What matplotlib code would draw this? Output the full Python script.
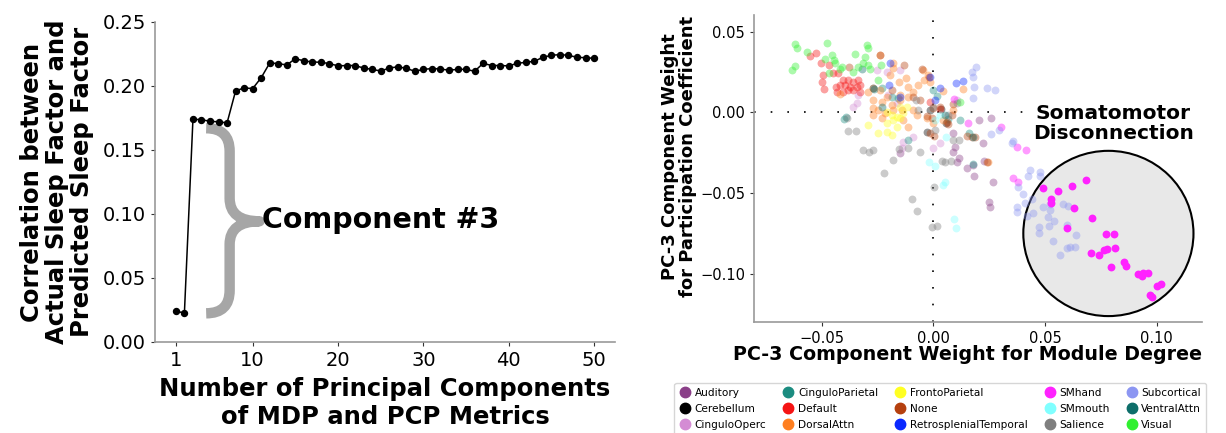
import numpy as np
import matplotlib
matplotlib.use("Agg")
import matplotlib.pyplot as plt
from matplotlib.path import Path
from matplotlib.patches import PathPatch, Ellipse
from matplotlib.lines import Line2D

# ============================= DATA =============================
# left panel: correlation vs number of PCs
n_components = list(range(1, 51))
corr_values = [0.0240, 0.0227, 0.1740, 0.1737, 0.1724, 0.1720, 0.1712, 0.1962, 0.1985, 0.1980,
               0.2065, 0.2180, 0.2175, 0.2164, 0.2214, 0.2196, 0.2188, 0.2185, 0.2175, 0.2157,
               0.2160, 0.2160, 0.2140, 0.2130, 0.2117, 0.2140, 0.2150, 0.2138, 0.2115, 0.2130,
               0.2136, 0.2133, 0.2123, 0.2130, 0.2130, 0.2115, 0.2177, 0.2160, 0.2160, 0.2157,
               0.2177, 0.2185, 0.2193, 0.2224, 0.2240, 0.2245, 0.2240, 0.2224, 0.2221, 0.2216]
left_xticks = [1, 10, 20, 30, 40, 50]

# right panel: PC-3 weights per network (module degree x, participation coeff y)
auditory_x = [0.0097, 0.0090, 0.0115, 0.0149, 0.0182, 0.0179, 0.0228, 0.0266, 0.0248, 0.0254,
              0.0090, 0.0257, 0.0221, 0.0206, -0.0149, 0.0104]
auditory_y = [-0.0213, -0.0244, -0.0285, -0.0347, -0.0395, -0.0327, -0.0300, -0.0430, -0.0554, -0.0585,
              -0.0130, -0.0037, -0.0192, -0.0048, -0.0254, -0.0306]
cerebellum_x = [0.0033, 0.0057, -0.0015, -0.0030]
cerebellum_y = [0.0023, -0.0064, 0.0014, -0.0120]
cingulooperc_x = [-0.0358, -0.0340, -0.0336, -0.0254, -0.0209, -0.0149, -0.0142, -0.0134, -0.0090, 0.0107,
                  -0.0201, -0.0164, 0.0000, 0.0030]
cingulooperc_y = [0.0035, 0.0056, 0.0108, 0.0263, 0.0252, 0.0263, -0.0223, -0.0182, -0.0155, 0.0077,
                  0.0108, 0.0056, -0.0223, -0.0192]
cinguloparietal_x = [-0.0400, -0.0391, -0.0269, -0.0231, -0.0157, -0.0112, 0.0000, 0.0015, 0.0067, 0.0119,
                     0.0179, 0.0161, -0.0187]
cinguloparietal_y = [-0.0043, -0.0027, 0.0149, 0.0149, 0.0087, -0.0172, 0.0139, 0.0101, -0.0043, -0.0048,
                     -0.0323, -0.0130, 0.0093]
default_x = [-0.0552, -0.0525, -0.0504, -0.0466, -0.0451, -0.0425, -0.0493, -0.0497, -0.0488, -0.0406,
             -0.0381, -0.0358, -0.0336, -0.0328, -0.0343, -0.0373, -0.0396, -0.0418, -0.0436, -0.0430,
             -0.0403, -0.0381, -0.0358, -0.0328, -0.0015, 0.0030]
default_y = [0.0349, 0.0366, 0.0304, 0.0294, 0.0242, 0.0246, 0.0232, 0.0190, 0.0143, 0.0201,
             0.0201, 0.0190, 0.0201, 0.0170, 0.0159, 0.0159, 0.0170, 0.0170, 0.0159, 0.0128,
             0.0128, 0.0139, 0.0139, 0.0128, 0.0062, 0.0019]
dorsalattn_x = [-0.0239, -0.0182, -0.0179, -0.0194, -0.0152, -0.0122, -0.0112, -0.0045, -0.0042, -0.0015,
                -0.0022, -0.0067, -0.0090, -0.0112, -0.0149, -0.0209, -0.0231, -0.0269, -0.0272, -0.0246,
                -0.0216, -0.0179, -0.0142, -0.0134, -0.0112, -0.0075, -0.0030, 0.0000, 0.0045, 0.0090,
                0.0131, 0.0045, -0.0239, -0.0291, -0.0418, -0.0149, -0.0187, -0.0231, -0.0269, 0.0243,
                -0.0090]
dorsalattn_y = [0.0356, 0.0308, 0.0273, 0.0232, 0.0190, 0.0211, 0.0159, 0.0263, 0.0201, 0.0190,
                0.0232, 0.0170, 0.0128, 0.0097, 0.0108, 0.0097, 0.0066, 0.0025, 0.0077, 0.0014,
                -0.0006, 0.0014, 0.0014, -0.0048, -0.0089, -0.0017, -0.0037, -0.0068, -0.0048, 0.0014,
                0.0143, 0.0134, 0.0139, 0.0128, 0.0114, 0.0077, 0.0045, -0.0037, -0.0017, -0.0306,
                0.0014]
frontoparietal_x = [-0.0209, -0.0187, -0.0164, -0.0149, -0.0179, -0.0209, -0.0246, -0.0209, -0.0187, -0.0164,
                    -0.0134, -0.0119, -0.0149, -0.0291]
frontoparietal_y = [0.0004, -0.0017, -0.0027, -0.0037, -0.0048, -0.0068, -0.0130, -0.0120, -0.0141, -0.0089,
                    -0.0006, 0.0035, 0.0035, -0.0079]
none_x = [-0.0239, -0.0376, -0.0131, -0.0052, -0.0018, -0.0090, 0.0000, -0.0030, 0.0030, 0.0060,
          0.0067, -0.0015, 0.0003, 0.0149, 0.0172, 0.0187, 0.0239, 0.0082, 0.0090, -0.0187,
          -0.0269, -0.0060, -0.0007]
none_y = [0.0356, 0.0283, 0.0294, 0.0269, 0.0217, 0.0097, 0.0025, -0.0023, 0.0031, -0.0058,
          -0.0072, -0.0130, -0.0147, -0.0147, -0.0155, -0.0155, -0.0306, -0.0017, 0.0052, 0.0139,
          0.0149, 0.0077, -0.0037]
retrosplenial_x = [-0.0194, -0.0199, -0.0015, 0.0030, 0.0101, 0.0134, -0.0149, 0.0007]
retrosplenial_y = [0.0304, 0.0170, 0.0217, 0.0149, 0.0184, 0.0196, 0.0097, 0.0077]
smhand_x = [0.0493, 0.0525, 0.0525, 0.0560, 0.0622, 0.0682, 0.0631, 0.0597, 0.0712, 0.0772,
            0.0807, 0.0706, 0.0742, 0.0766, 0.0776, 0.0815, 0.0796, 0.0855, 0.0861, 0.0915,
            0.0936, 0.0940, 0.0960, 0.1000, 0.1019, 0.0970, 0.0981,
            0.0157, 0.0303, 0.0373, 0.0416, 0.0358, 0.0378, 0.0094]
smhand_y = [-0.0467, -0.0538, -0.0565, -0.0490, -0.0455, -0.0422, -0.0596, -0.0718, -0.0653, -0.0755,
            -0.0755, -0.0875, -0.0885, -0.0854, -0.0850, -0.0840, -0.0959, -0.0926, -0.0951, -0.1003,
            -0.1015, -0.0999, -0.0995, -0.1077, -0.1065, -0.1133, -0.1148,
            -0.0064, -0.0093, -0.0213, -0.0232, -0.0405, -0.0430, 0.0081]
smmouth_x = [-0.0018, 0.0007, 0.0045, 0.0052, 0.0094, 0.0100, 0.0007, 0.0030, 0.0057]
smmouth_y = [-0.0306, -0.0333, -0.0451, -0.0430, -0.0664, -0.0720, -0.0048, -0.0017, -0.0155]
salience_x = [-0.0388, -0.0384, -0.0348, -0.0313, -0.0287, -0.0272, -0.0182, -0.0221, -0.0152, -0.0112,
              -0.0060, 0.0004, -0.0096, -0.0075, -0.0007, 0.0015, 0.0052, 0.0078, 0.0000, 0.0090,
              0.0116, 0.0037, -0.0067, 0.0007, 0.0067, -0.0078, 0.0104]
salience_y = [-0.0037, -0.0116, -0.0114, -0.0234, -0.0244, -0.0234, -0.0296, -0.0374, -0.0230, -0.0223,
              -0.0248, -0.0461, -0.0536, -0.0610, -0.0709, -0.0705, -0.0306, -0.0302, 0.0031, -0.0172,
              -0.0172, -0.0300, 0.0014, -0.0110, -0.0017, 0.0077, 0.0056]
subcortical_x = [0.0172, 0.0191, 0.0179, 0.0184, 0.0176, 0.0242, 0.0276, 0.0258, 0.0296, 0.0351,
                 0.0358, 0.0433, 0.0478, 0.0425, 0.0478, 0.0381, 0.0403, 0.0440, 0.0410, 0.0373,
                 0.0376, 0.0418, 0.0448, 0.0493, 0.0522, 0.0582, 0.0604, 0.0522, 0.0515, 0.0540,
                 0.0519, 0.0475, 0.0475, 0.0597, 0.0639, 0.0537, 0.0612, 0.0634, 0.0597, 0.0567]
subcortical_y = [0.0252, 0.0279, 0.0217, 0.0155, 0.0087, 0.0149, 0.0139, -0.0136, -0.0110, -0.0192,
                 -0.0176, -0.0358, -0.0368, -0.0395, -0.0395, -0.0465, -0.0507, -0.0540, -0.0565, -0.0589,
                 -0.0616, -0.0643, -0.0627, -0.0585, -0.0569, -0.0569, -0.0579, -0.0606, -0.0647, -0.0672,
                 -0.0705, -0.0709, -0.0746, -0.0699, -0.0759, -0.0798, -0.0833, -0.0833, -0.0844, -0.0885]
ventralattn_x = [-0.0321, -0.0266, 0.0052, 0.0179, -0.0231]
ventralattn_y = [0.0269, 0.0143, -0.0017, -0.0151, 0.0035]
visual_x = [-0.0619, -0.0612, -0.0478, -0.0567, -0.0485, -0.0455, -0.0445, -0.0440, -0.0351, -0.0299,
            -0.0291, -0.0306, -0.0313, -0.0291, -0.0284, -0.0336, -0.0358, -0.0410, -0.0418, -0.0466,
            -0.0619, -0.0634, -0.0246, -0.0236, 0.0119]
visual_y = [0.0424, 0.0397, 0.0428, 0.0376, 0.0331, 0.0356, 0.0325, 0.0304, 0.0362, 0.0418,
            0.0397, 0.0345, 0.0304, 0.0294, 0.0267, 0.0283, 0.0252, 0.0283, 0.0267, 0.0246,
            0.0287, 0.0263, 0.0201, 0.0294, 0.0062]

networks = ['Auditory', 'Cerebellum', 'CinguloOperc', 'CinguloParietal', 'Default', 'DorsalAttn',
            'FrontoParietal', 'None', 'RetrosplenialTemporal', 'SMhand', 'SMmouth', 'Salience',
            'Subcortical', 'VentralAttn', 'Visual']
net_x = [auditory_x, cerebellum_x, cingulooperc_x, cinguloparietal_x, default_x, dorsalattn_x,
         frontoparietal_x, none_x, retrosplenial_x, smhand_x, smmouth_x, salience_x,
         subcortical_x, ventralattn_x, visual_x]
net_y = [auditory_y, cerebellum_y, cingulooperc_y, cinguloparietal_y, default_y, dorsalattn_y,
         frontoparietal_y, none_y, retrosplenial_y, smhand_y, smmouth_y, salience_y,
         subcortical_y, ventralattn_y, visual_y]
net_colors = ['#8a3f88', '#000000', '#d48cd4', '#1b8c80', '#f51414', '#ff7f20',
              '#ffff22', '#b5400e', '#0a28ff', '#ff22ff', '#80ffff', '#7f7f7f',
              '#8c96f2', '#0d6e6a', '#30f030']

# circle highlighting somatomotor disconnection
circ_center = (0.0784, -0.0751)
circ_w, circ_h = 0.0762, 0.1025

# ============================= PLOT =============================
fig = plt.figure(figsize=(12.26, 4.33), dpi=100)
ax1 = fig.add_axes([0.1264, 0.2102, 0.3752, 0.7390])
ax2 = fig.add_axes([0.6150, 0.2564, 0.3654, 0.7090])

# ---- left panel
ax1.plot(n_components, corr_values, color='black', lw=1.1, marker='o', ms=4.3)
ax1.set_ylim(0, 0.25)
ax1.set_xticks(left_xticks)
ax1.tick_params(labelsize=14, colors='#333333', length=3)
ax1.set_xlabel('Number of Principal Components\nof MDP and PCP Metrics', fontsize=17.5,
               fontweight='bold', labelpad=5, linespacing=1.2)
ax1.set_ylabel('Correlation between\nActual Sleep Factor and\nPredicted Sleep Factor',
               fontsize=17.5, fontweight='bold', linespacing=1.05, labelpad=6)

# curly brace annotation
bx0, bxm, bxt = 4.55, 7.3, 10.8
byt, bym, byb = 0.167, 0.0943, 0.0224
r = 0.018
verts = [(bx0, byt), (bxm, byt), (bxm, byt - r),
         (bxm, bym + r), (bxm, bym), (bxt, bym),
         (bxm, bym), (bxm, bym - r),
         (bxm, byb + r), (bxm, byb), (bx0, byb)]
codes = [Path.MOVETO, Path.CURVE3, Path.CURVE3,
         Path.LINETO, Path.CURVE3, Path.CURVE3,
         Path.CURVE3, Path.CURVE3,
         Path.LINETO, Path.CURVE3, Path.CURVE3]
ax1.add_patch(PathPatch(Path(verts, codes), fill=False, edgecolor='#a6a6a6', lw=7.5,
                        capstyle='butt', joinstyle='round'))
ax1.text(11.1, 0.0955, 'Component #3', fontsize=20.5, fontweight='bold', va='center', ha='left')

# ---- right panel
ax2.add_patch(Ellipse(circ_center, circ_w, circ_h, facecolor='#e8e8e8', edgecolor='black',
                      lw=1.5, zorder=1))
ax2.axhline(0, color='black', ls=(0, (1, 9)), lw=1.2, zorder=0.5)
ax2.axvline(0, color='black', ls=(0, (1, 9)), lw=1.2, zorder=0.5)
for name, xs, ys, c in zip(networks, net_x, net_y, net_colors):
    xs = np.array(xs)
    ys = np.array(ys)
    if name == 'SMhand':
        inside = ((xs - circ_center[0]) / (circ_w / 2)) ** 2 + ((ys - circ_center[1]) / (circ_h / 2)) ** 2 < 1
        ax2.scatter(xs[~inside], ys[~inside], s=32, color=c, alpha=0.45, lw=0, zorder=2)
        ax2.scatter(xs[inside], ys[inside], s=32, color=c, alpha=1.0, lw=0, zorder=3)
    else:
        ax2.scatter(xs, ys, s=32, color=c, alpha=0.4, lw=0, zorder=2)

ax2.set_xlim(-0.0803, 0.1203)
ax2.set_ylim(-0.130, 0.0604)
ax2.set_xticks([-0.05, 0.0, 0.05, 0.10])
ax2.set_yticks([-0.10, -0.05, 0.0, 0.05])
ax2.tick_params(labelsize=10.5, colors='#333333', length=3)
ax2.set_xlabel('PC-3 Component Weight for Module Degree', fontsize=13.7, fontweight='bold')
ax2.xaxis.set_label_coords(0.477, -0.075)
ax2.set_ylabel('PC-3 Component Weight\nfor Participation Coefficient', fontsize=13,
               fontweight='bold', linespacing=1.0)
ax2.yaxis.set_label_coords(-0.128, 0.54)
ax2.text(0.0805, -0.0067, 'Somatomotor\nDisconnection', fontsize=14.5, fontweight='bold',
         ha='center', va='center', linespacing=1.05, zorder=4,
         bbox=dict(facecolor='white', edgecolor='none', pad=0.5))

for a in [ax1, ax2]:
    a.spines['top'].set_visible(False)
    a.spines['right'].set_visible(False)
    for side in ['left', 'bottom']:
        a.spines[side].set_color('#999999')
        a.spines[side].set_linewidth(1.2)
    for lbl in a.get_xticklabels() + a.get_yticklabels():
        lbl.set_color('black')

handles = [Line2D([], [], ls='none', marker='o', ms=7.5, color=c) for c in net_colors]
fig.legend(handles, networks, loc='upper center', bbox_to_anchor=(0.767, 0.128), ncol=5,
           fontsize=7.6, handlelength=1.0, handletextpad=0.4, columnspacing=1.6,
           labelspacing=0.55, borderpad=0.5, frameon=True)

fig.savefig('out.png', dpi=100)
